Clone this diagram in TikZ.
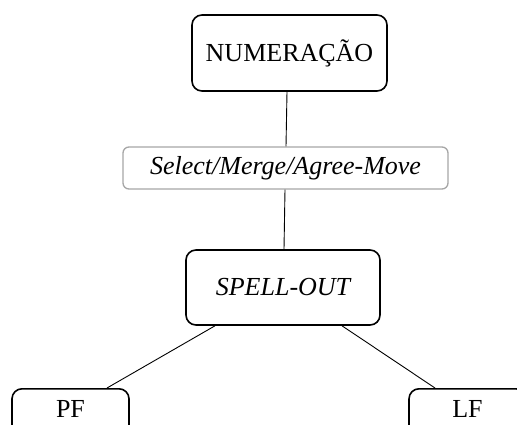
\documentclass[tikz,border=0pt]{standalone}
\usepackage{fontspec}
\setmainfont{Liberation Serif}
\begin{document}
\begin{tikzpicture}[x=1pt,y=-1pt,
  box/.style={draw=black, line width=1.6pt, rounded corners=10pt, inner sep=0pt,
    font=\fontsize{26}{30}\selectfont},
  opbox/.style={draw=opgray, line width=1.3pt, rounded corners=6pt, inner sep=0pt,
    font=\fontsize{26}{30}\selectfont\itshape},
  leaf/.style={box, anchor=north, minimum width=117pt, text height=29pt, text depth=40pt},
  link/.style={draw=black, line width=0.9pt}]
\definecolor{opgray}{HTML}{A6A6A6}
\useasboundingbox (0,0) rectangle (517,424);

% derivation stages
\node[box, minimum width=195pt, minimum height=76pt] (num) at (289.5,53) {NUMERAÇÃO};
\node[opbox, minimum width=325pt, minimum height=42pt] (ops) at (285.5,168) {Select/Merge/Agree-Move};
\node[box, minimum width=194pt, minimum height=75pt, font=\fontsize{26}{30}\selectfont\itshape] (spell) at (283,287.5) {SPELL-OUT};

% interface levels
\node[leaf] (pf) at (70.5,388) {PF};
\node[leaf] (lf) at (467.5,388) {LF};

% connectors
\draw[link] ([xshift=-2.5pt]num.south) -- ([xshift=0.5pt]ops.north);
\draw[link] ([xshift=-0.5pt]ops.south) -- ([xshift=1pt]spell.north);
\draw[link] ([xshift=-68pt]spell.south) -- ([xshift=36.5pt]pf.north);
\draw[link] ([xshift=59pt]spell.south) -- ([xshift=-32.5pt]lf.north);
\end{tikzpicture}
\end{document}
